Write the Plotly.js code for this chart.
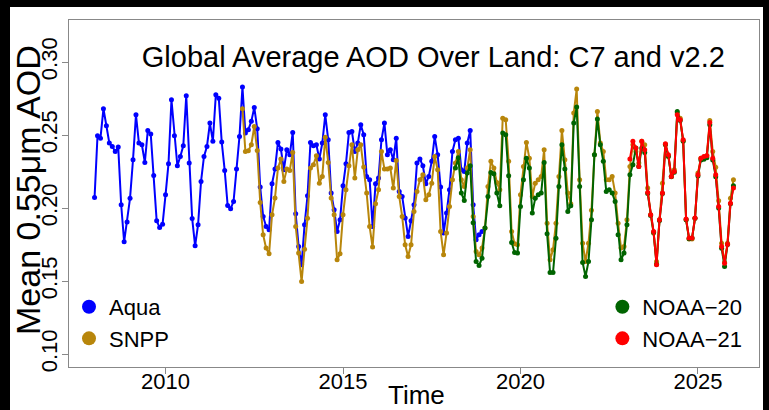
<!DOCTYPE html>
<html><head><meta charset="utf-8">
<script src="https://cdn.plot.ly/plotly-3.0.1.min.js"></script>
<style>
html,body{margin:0;padding:0;background:#000;width:769px;height:410px;overflow:hidden}
#plot{position:absolute;left:10px;top:7px;width:753px;height:403px;background:#fff}
</style></head><body><div id="plot"></div>
<script>
// Monthly global mean AOD (0.55 um) over land
const aquaStart = [2008, 1];
const aqua = [
0.2073,0.2495,0.2479,0.2680,0.2564,0.2445,0.2422,0.2388,0.2418,0.2023,0.1769,0.1904,
0.2068,0.2331,0.2639,0.2445,0.2434,0.2313,0.2532,0.2507,0.2224,0.1913,0.1868,0.1890,
0.2091,0.2304,0.2742,0.2495,0.2290,0.2354,0.2427,0.2769,0.2308,0.1929,0.1742,0.1886,
0.2183,0.2354,0.2422,0.2582,0.2457,0.2776,0.2753,0.2452,0.2258,0.2018,0.1995,0.2046,
0.2267,0.2491,0.2829,0.2514,0.2537,0.2594,0.2689,0.2543,0.2144,0.1943,0.1874,0.1852,
0.2167,0.2267,0.2450,0.2404,0.2263,0.2400,0.2365,0.2518,0.1961,0.1737,0.1612,0.1886,
0.2084,0.2450,0.2427,0.2434,0.2336,0.2445,0.2639,0.2468,0.2103,0.1989,0.1840,0.1920,
0.2153,0.2304,0.2518,0.2525,0.2388,0.2445,0.2571,0.2502,0.2217,0.2194,0.1874,0.2167,
0.2206,0.2468,0.2582,0.2365,0.2400,0.2331,0.2479,0.2114,0.2080,0.1932,0.1806,0.1913,
0.2023,0.2308,0.2336,0.2290,0.2167,0.2217,0.2320,0.2491,0.2365,0.2144,0.1829,0.1966,
0.2126,0.2388,0.2468,0.2479,0.2263,0.2251,0.2445,0.2532,0.2023,0.1783,0.1817,0.1840
];
const snppStart = [2012, 3];
const snpp = [
0.2680,0.2388,0.2393,0.2434,0.2559,0.2395,0.2039,0.1817,0.1726,0.1687,
0.1954,0.2069,0.2274,0.2336,0.2183,0.2267,0.2258,0.2381,0.1874,0.1692,0.1498,0.1719,
0.1931,0.2274,0.2297,0.2358,0.2171,0.2217,0.2486,0.2313,0.2069,0.1954,0.1646,0.1687,
0.1954,0.2125,0.2290,0.2434,0.2206,0.2400,0.2434,0.2281,0.2103,0.1874,0.1733,0.2030,
0.2125,0.2388,0.2267,0.2267,0.2274,0.2137,0.2326,0.2080,0.1943,0.1749,0.1669,0.1749,
0.1977,0.2114,0.2194,0.2228,0.2057,0.2091,0.2171,0.2354,0.2263,0.1840,0.1680,0.1829,
0.2011,0.2194,0.2308,0.2388,0.2194,0.2148,0.2274,0.2400,0.1943,0.1703,0.1680,0.1726,
0.1863,0.2148,0.2320,0.2274,0.2176,0.2126,0.2616,0.2605,0.2320,0.1840,0.1756,0.1749,
0.2091,0.2285,0.2450,0.2342,0.2080,0.2171,0.2194,0.2217,0.2400,0.1897,0.1646,0.1715,
0.1897,0.2217,0.2532,0.2331,0.2103,0.2030,0.2651,0.2815,0.2194,0.1760,0.1635,0.1760,
0.1985,0.2365,0.2662,0.2445,0.2388,0.2194,0.2194,0.2217,0.2103,0.1897,0.1726,0.1737,
0.1920,0.2285,0.2434,0.2388,0.2308,0.2457,0.2434,0.2137,0.1954,0.1829,0.1635,0.1920,
0.2171,0.2434,0.2354,0.2217,0.2263,0.2651,0.2616,0.2457,0.1920,0.1788,0.1788,0.1931,
0.2240,0.2342,0.2349,0.2360,0.2600,0.2388,0.2280,0.2050,0.1760,0.1630,0.1760,0.2068,
0.2194
];
const n20Start = [2018, 3];
const noaa20 = [
0.2274,0.2344,0.2103,0.2052,0.2240,0.2290,0.1900,0.1634,0.1607,0.1657,
0.1863,0.2080,0.2244,0.2235,0.2103,0.2016,0.2514,0.2502,0.2221,0.1765,0.1696,0.1692,
0.2011,0.2194,0.2342,0.2274,0.1966,0.2068,0.2091,0.2103,0.2313,0.1824,0.1559,0.1559,
0.1794,0.2148,0.2434,0.2267,0.1977,0.2016,0.2582,0.2692,0.2148,0.1628,0.1532,0.1635,
0.1920,0.2365,0.2610,0.2434,0.2320,0.2114,0.2126,0.2103,0.2046,0.1817,0.1646,0.1692,
0.1886,0.2228,0.2297,0.2411,0.2285,0.2411,0.2380,0.2100,0.1950,0.1835,0.1615,0.1915,
0.2100,0.2435,0.2355,0.2215,0.2245,0.2662,0.2600,0.2460,0.1920,0.1790,0.1795,0.1930,
0.2220,0.2330,0.2335,0.2345,0.2570,0.2330,0.2215,0.2000,0.1725,0.1600,0.1750,0.2030,
0.2153
];
const n21Start = [2023, 2];
const noaa21 = [
0.2336,0.2457,0.2411,0.2285,0.2457,0.2400,0.2107,0.1954,0.1840,0.1612,0.1920,
0.2103,0.2441,0.2365,0.2217,0.2251,0.2639,0.2605,0.2468,0.1925,0.1795,0.1795,0.1932,
0.2228,0.2342,0.2354,0.2358,0.2587,0.2342,0.2228,0.2011,0.1737,0.1623,0.1753,0.2034,
0.2137
];
const xTicks = [2010, 2015, 2020, 2025];
const yTicks = [0.10, 0.15, 0.20, 0.25, 0.30];
const yTickText = ["0.10", "0.15", "0.20", "0.25", "0.30"];

function months(start, n) {
  const out = [];
  for (let i = 0; i < n; i++) out.push(start[0] + (start[1] - 1 + i) / 12);
  return out;
}
const FONT = "Liberation Sans, Arial, Helvetica, sans-serif";
function series(name, start, vals, color) {
  return {
    x: months(start, vals.length), y: vals, name: name, type: "scatter", mode: "lines+markers",
    line: {color: color, width: 2}, marker: {color: color, size: 5}, showlegend: false, hoverinfo: "skip"
  };
}
function legendItem(name, color, legend) {
  return {x: [null], y: [null], name: name, type: "scatter", mode: "markers",
    marker: {color: color, size: 14}, legend: legend, showlegend: true};
}
const C = {aqua: "#0000FF", snpp: "#B8860B", n20: "#006400", n21: "#FF0000"};
const data = [
  series("Aqua", aquaStart, aqua, C.aqua),
  series("SNPP", snppStart, snpp, C.snpp),
  series("NOAA−20", n20Start, noaa20, C.n20),
  series("NOAA−21", n21Start, noaa21, C.n21),
  legendItem("Aqua", C.aqua, "legend"),
  legendItem("SNPP", C.snpp, "legend"),
  legendItem("NOAA−20", C.n20, "legend2"),
  legendItem("NOAA−21", C.n21, "legend2")
];
const layout = {
  width: 753, height: 403,
  margin: {l: 58.5, r: 3.7, t: 13, b: 43},
  paper_bgcolor: "#fff", plot_bgcolor: "#fff",
  font: {family: FONT, color: "#000"},
  title: {text: "Global Average AOD Over Land: C7 and v2.2", font: {size: 29, family: FONT, color: "#000"},
    xref: "paper", x: 0.528, xanchor: "center", yref: "container", y: 0.876, yanchor: "middle"},
  xaxis: {range: [2007.28, 2026.72], tickvals: xTicks, ticktext: xTicks.map(String),
    showgrid: false, zeroline: false, showline: true, mirror: true, linecolor: "#888", linewidth: 1,
    ticks: "outside", ticklen: 6, tickcolor: "#888", tickfont: {size: 22}, ticklabelstandoff: -11},
  yaxis: {range: [0.0912, 0.3288], tickvals: yTicks, ticktext: yTickText, tickangle: -90,
    showgrid: false, zeroline: false, showline: true, mirror: true, linecolor: "#888", linewidth: 1,
    ticks: "outside", ticklen: 6, tickcolor: "#888", tickfont: {size: 22}, ticklabelstandoff: -4},
  annotations: [
    {text: "Time", xref: "paper", yref: "paper", x: 0.503, y: -0.0815, xanchor: "center", yanchor: "middle",
      showarrow: false, borderpad: 0, font: {size: 26, family: FONT, color: "#000"}},
    {text: "Mean 0.55μm AOD", xref: "paper", yref: "paper", x: -0.0595, y: 0.51, xanchor: "center", yanchor: "middle",
      textangle: -90, showarrow: false, font: {size: 34, family: FONT, color: "#000"}}
  ],
  legend: {x: 0.0, xanchor: "left", y: 0.127, yanchor: "middle", bgcolor: "rgba(0,0,0,0)",
    font: {size: 22}, itemwidth: 30, tracegroupgap: 0},
  legend2: {x: 0.773, xanchor: "left", y: 0.127, yanchor: "middle", bgcolor: "rgba(0,0,0,0)",
    font: {size: 22}, itemwidth: 30, tracegroupgap: 0},
  showlegend: true
};
Plotly.newPlot("plot", data, layout, {staticPlot: true, displayModeBar: false});
</script></body></html>
